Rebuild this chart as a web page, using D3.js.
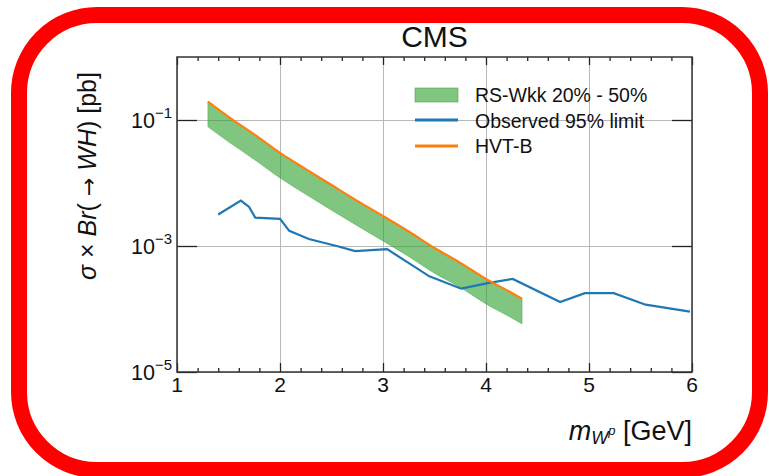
<!DOCTYPE html>
<html>
<head>
<meta charset="utf-8">
<script src="https://cdn.jsdelivr.net/npm/d3@7"></script>
<style>
  body { margin: 0; background: #fff; }
  svg text { font-family: "Liberation Sans", Arial, sans-serif; fill: #111; }
  .grid line { stroke: #b8b8b8; stroke-width: 1; }
  .grid path { display: none; }
  .axis path { display: none; }
  .axis line { stroke: #222; stroke-width: 1.3; }
</style>
</head>
<body>
<div id="chart"></div>
<script>
// masses [GeV] for the RS-Wkk band and HVT-B curve
const bandMass = [1.3, 1.5, 1.75, 2.0, 2.25, 2.5, 2.75, 3.0, 3.25, 3.5, 3.75, 4.0, 4.25, 4.35];
const rsHigh = [0.195, 0.112, 0.059, 0.030, 0.0166, 0.0093, 0.0052, 0.0030, 0.0017, 0.00093, 0.00054, 0.00030, 0.00018, 0.000145];
const rsLow = [0.078, 0.045, 0.0236, 0.012, 0.0066, 0.0037, 0.0021, 0.0012, 0.00068, 0.00037, 0.00022, 0.00012, 0.000072, 0.000058];
const hvtB = [0.195, 0.112, 0.059, 0.030, 0.0166, 0.0093, 0.0052, 0.0030, 0.0017, 0.00093, 0.00054, 0.00030, 0.00018, 0.000145];

// observed 95% limit
const obsMass = [1.40, 1.62, 1.70, 1.76, 2.00, 2.09, 2.28, 2.55, 2.73, 3.04, 3.24, 3.45, 3.76, 4.03, 4.26, 4.72, 4.96, 5.24, 5.55, 5.98];
const obsLimit = [0.00316, 0.00525, 0.00417, 0.00282, 0.00269, 0.00174, 0.00129, 0.00100, 0.00083, 0.00089, 0.00055, 0.00033, 0.00021, 0.00026, 0.00030, 0.000129, 0.000178, 0.000178, 0.000117, 0.000091];

const xTicks = [1, 2, 3, 4, 5, 6];
const yTicks = [1e-1, 1e-3, 1e-5];
const yTickExp = ["−1", "−3", "−5"];
const legendLabels = ["RS-Wkk 20% - 50%", "Observed 95% limit", "HVT-B"];

class LimitPlot {

  constructor(_config) {
    this.config = {
      parentElement: _config.parentElement,
      containerWidth: 769,
      containerHeight: 476
    }
    this.config.margin = _config.margin || { top: 57, bottom: 104, right: 77, left: 177 };
    this.config.width = this.config.containerWidth - this.config.margin.left - this.config.margin.right;
    this.config.height = this.config.containerHeight - this.config.margin.top - this.config.margin.bottom;
    this.initVis();
  }

  initVis() {
    let vis = this;
    const w = vis.config.width, h = vis.config.height;

    vis.svgContainer = d3.select(vis.config.parentElement).append("svg")
        .attr("width", vis.config.containerWidth)
        .attr("height", vis.config.containerHeight);

    vis.svg = vis.svgContainer.append("g")
        .attr("transform", "translate(" + vis.config.margin.left + "," + vis.config.margin.top + ")");

    vis.xScale = d3.scaleLinear().domain([1, 6]).range([0, w]);
    vis.yScale = d3.scaleLog().domain([1e-5, 1]).range([h, 0]);

    // gridlines
    vis.svg.append("g").attr("class", "grid")
        .attr("transform", "translate(0," + h + ")")
        .call(d3.axisBottom(vis.xScale).tickValues(xTicks).tickSize(-h).tickFormat(""));
    vis.svg.append("g").attr("class", "grid")
        .call(d3.axisLeft(vis.yScale).tickValues(yTicks).tickSize(-w).tickFormat(""));

    vis.chart = vis.svg.append("g");
    vis.axes = vis.svg.append("g");
  }

  updateVis() {
    let vis = this;
    const w = vis.config.width, h = vis.config.height;
    const minor = d3.range(1, 6.01, 0.2).filter(d => Math.abs(d - Math.round(d)) > 0.01);

    // band
    const band = bandMass.map((m, i) => ({ m: m, lo: rsLow[i], hi: rsHigh[i] }));
    vis.chart.append("path")
        .datum(band)
        .attr("fill", "#2ca02c")
        .attr("fill-opacity", 0.6)
        .attr("stroke", "#2ca02c")
        .attr("stroke-opacity", 0.5)
        .attr("stroke-width", 0.8)
        .attr("d", d3.area()
          .curve(d3.curveMonotoneX)
          .x(d => vis.xScale(d.m))
          .y0(d => vis.yScale(d.lo))
          .y1(d => vis.yScale(d.hi)));

    // observed limit
    vis.chart.append("path")
        .datum(obsMass.map((m, i) => [m, obsLimit[i]]))
        .attr("fill", "none")
        .attr("stroke", "#1f77b4")
        .attr("stroke-width", 2.2)
        .attr("d", d3.line().x(d => vis.xScale(d[0])).y(d => vis.yScale(d[1])));

    // HVT-B
    vis.chart.append("path")
        .datum(bandMass.map((m, i) => [m, hvtB[i]]))
        .attr("fill", "none")
        .attr("stroke", "#ff7f0e")
        .attr("stroke-width", 2.2)
        .attr("d", d3.line().curve(d3.curveMonotoneX).x(d => vis.xScale(d[0])).y(d => vis.yScale(d[1])));

    // ticks, all pointing inward
    vis.axes.append("g").attr("class", "axis").attr("transform", "translate(0," + h + ")")
        .call(d3.axisBottom(vis.xScale).tickValues(minor).tickSize(-4).tickFormat(""));
    vis.axes.append("g").attr("class", "axis").attr("transform", "translate(0," + h + ")")
        .call(d3.axisBottom(vis.xScale).tickValues(xTicks).tickSize(-9).tickFormat(""));
    vis.axes.append("g").attr("class", "axis")
        .call(d3.axisTop(vis.xScale).tickValues(minor).tickSize(-4).tickFormat(""));
    vis.axes.append("g").attr("class", "axis")
        .call(d3.axisTop(vis.xScale).tickValues(xTicks).tickSize(-8).tickFormat(""));
    vis.axes.append("g").attr("class", "axis")
        .call(d3.axisLeft(vis.yScale).tickValues(yTicks).tickSize(-20).tickFormat(""));
    vis.axes.append("g").attr("class", "axis").attr("transform", "translate(" + w + ",0)")
        .call(d3.axisRight(vis.yScale).tickValues(yTicks).tickSize(-20).tickFormat(""));

    // frame
    vis.axes.append("rect")
        .attr("width", w).attr("height", h)
        .attr("fill", "none").attr("stroke", "#333").attr("stroke-width", 1.5);

    // x tick labels
    vis.axes.selectAll(".xlab").data(xTicks).join("text")
        .attr("class", "xlab")
        .attr("x", d => vis.xScale(d))
        .attr("y", h + 20)
        .attr("text-anchor", "middle")
        .attr("font-size", 21)
        .text(d => d);

    // y tick labels 10^n
    const yl = vis.axes.selectAll(".ylab").data(yTicks).join("text")
        .attr("class", "ylab")
        .attr("x", -5)
        .attr("y", d => vis.yScale(d) + 8)
        .attr("text-anchor", "end")
        .attr("font-size", 21.5);
    yl.append("tspan").text("10");
    yl.append("tspan").attr("font-size", 15).attr("dy", -10).text((d, i) => yTickExp[i]);

    // title
    vis.svg.append("text")
        .attr("x", w / 2).attr("y", -10)
        .attr("text-anchor", "middle")
        .attr("font-size", 30)
        .text("CMS");

    // y title
    const yt = vis.svg.append("text")
        .attr("transform", "translate(-81," + 119 + ") rotate(-90)")
        .attr("text-anchor", "middle")
        .attr("font-size", 25);
    yt.append("tspan").attr("font-style", "italic").text("σ");
    yt.append("tspan").text(" × ");
    yt.append("tspan").attr("font-style", "italic").text("Br");
    yt.append("tspan").text("(");
    yt.append("tspan").attr("font-family", "DejaVu Sans").attr("font-size", 22).text(" → ");
    yt.append("tspan").attr("font-style", "italic").text("WH");
    yt.append("tspan").text(") [pb]");

    // x title
    const xt = vis.svg.append("text")
        .attr("x", w).attr("y", h + 68)
        .attr("text-anchor", "end")
        .attr("font-size", 27);
    xt.append("tspan").attr("font-style", "italic").text("m");
    xt.append("tspan").attr("font-style", "italic").attr("font-size", 18).attr("dy", 4).text("W");
    xt.append("tspan").attr("font-style", "italic").attr("font-size", 13).attr("dy", -9).text("p");
    xt.append("tspan").attr("dy", 5).text(" [GeV]");

    // legend
    const lg = vis.svg.append("g").attr("transform", "translate(238,38)");
    lg.append("rect").attr("x", 0).attr("y", -7).attr("width", 43).attr("height", 14)
        .attr("fill", "#2ca02c").attr("fill-opacity", 0.6)
        .attr("stroke", "#2ca02c").attr("stroke-opacity", 0.5);
    lg.append("line").attr("x1", 0).attr("x2", 43).attr("y1", 25).attr("y2", 25)
        .attr("stroke", "#1f77b4").attr("stroke-width", 3);
    lg.append("line").attr("x1", 0).attr("x2", 43).attr("y1", 51).attr("y2", 51)
        .attr("stroke", "#ff7f0e").attr("stroke-width", 3);
    lg.selectAll(".leg").data(legendLabels).join("text")
        .attr("class", "leg")
        .attr("x", 60)
        .attr("y", (d, i) => 7 + i * 25.5)
        .attr("font-size", 19.5)
        .text(d => d);

    // red rounded frame around the picture
    vis.svgContainer.append("rect")
        .attr("x", 19).attr("y", 15)
        .attr("width", 741).attr("height", 455)
        .attr("rx", 78).attr("ry", 78)
        .attr("fill", "none")
        .attr("stroke", "#ff0000")
        .attr("stroke-width", 16);
  }
}

const plot = new LimitPlot({ parentElement: "#chart" });
plot.updateVis();
</script>
</body>
</html>
